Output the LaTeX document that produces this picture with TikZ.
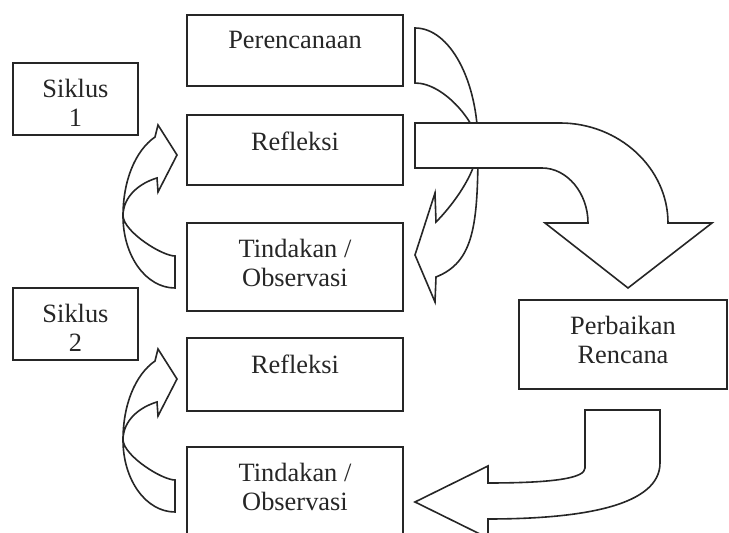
\documentclass[tikz,border=0pt]{standalone}
\usepackage{fontspec}
\setmainfont{Liberation Serif}
\usetikzlibrary{positioning}
\tikzset{
    kotak/.style={
        rectangle,
        draw=black!85,
        line width=0.8pt,
        inner sep=0pt,
        minimum width=108pt
    },
    teks/.style={
        align=center,
        inner sep=0pt,
        anchor=north,
        text=black!85,
        font=\fontsize{13.2}{14.5}\selectfont
    },
    panahBlok/.style={draw=black!85, line width=0.8pt, fill=white, line join=miter}
}

\begin{document}
\begin{tikzpicture}[x=0.5pt, y=-0.5pt]
        \useasboundingbox (0,0) rectangle (729,533);

        % kotak tahapan
        \node[kotak, minimum height=35.5pt] (perencanaan) at (295,50.5) {};
        \node[kotak, minimum height=35pt] (refleksi1) at (295,150) {};
        \node[kotak, minimum height=44pt] (tindakan1) at (295,267) {};
        \node[kotak, minimum height=36.5pt] (refleksi2) at (295,374.5) {};
        \node[kotak, minimum height=46.5pt] (tindakan2) at (295,493.5) {};
        \node[kotak, minimum width=62.5pt, minimum height=36pt] (siklus1) at (75.5,99) {};
        \node[kotak, minimum width=62.5pt, minimum height=36pt] (siklus2) at (75.5,324) {};
        \node[kotak, minimum width=104pt, minimum height=44.5pt] (perbaikan) at (623,344.5) {};

        % tulisan
        \node[teks] (tPerencanaan) at ([yshift=-8.5pt]perencanaan.north) {Perencanaan};
        \node[teks] (tRefleksi1) at ([yshift=-8.5pt]refleksi1.north) {Refleksi};
        \node[teks] (tTindakan1) at ([yshift=-8.5pt]tindakan1.north) {Tindakan /\\Observasi};
        \node[teks] (tRefleksi2) at ([yshift=-8.5pt]refleksi2.north) {Refleksi};
        \node[teks] (tTindakan2) at ([yshift=-8.5pt]tindakan2.north) {Tindakan /\\Observasi};
        \node[teks] (tSiklus1) at ([yshift=-8.5pt]siklus1.north) {Siklus\\1};
        \node[teks] (tSiklus2) at ([yshift=-8.5pt]siklus2.north) {Siklus\\2};
        \node[teks] (tPerbaikan) at ([yshift=-8.5pt]perbaikan.north) {Perbaikan\\Rencana};

        % panah lengkung kiri, tindakan ke refleksi
        \foreach \geser in {112,0} {
            \begin{scope}[yshift=\geser pt]
                \draw[panahBlok] (175,480) .. controls (162,480) and (124,456) .. (123,440)
                    .. controls (123,420) and (140,407) .. (157,402)
                    -- (158,416) -- (177,379) -- (158,349) -- (155,361)
                    .. controls (135,375) and (123,405) .. (123,440)
                    .. controls (123,480) and (146,512) .. (175,512) -- cycle;
            \end{scope}
        }

        % panah lengkung kanan, perencanaan ke tindakan
        \draw[panahBlok] (415,28) .. controls (450,28) and (478,81) .. (478,145)
            .. controls (478,225) and (474,262) .. (436,277)
            -- (435,302) -- (415,255) -- (435,193) -- (436,222)
            .. controls (452,206) and (478,172) .. (478,145)
            .. controls (478,125) and (445,83) .. (415,83) -- cycle;

        % panah besar ke perbaikan rencana
        \draw[panahBlok] (415,123) -- (560,123)
            .. controls (619,123) and (668,168) .. (668,223)
            -- (712,223) -- (628,288) -- (545,223) -- (588,223)
            .. controls (588,193) and (567,168) .. (542,168) -- (415,168) -- cycle;

        % panah perbaikan ke tindakan
        \draw[panahBlok] (585,410) -- (585,468)
            .. controls (585,478) and (555,483) .. (488,483)
            -- (488,466) -- (415,502) -- (488,538) -- (488,519)
            .. controls (585,519) and (660,505) .. (660,463) -- (660,410) -- cycle;
    \end{tikzpicture}
\end{document}
